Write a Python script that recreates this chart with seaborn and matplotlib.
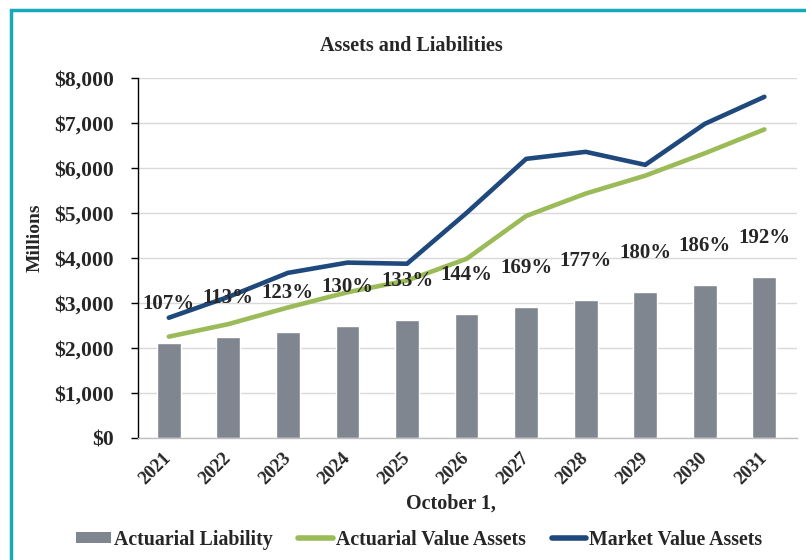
import matplotlib
matplotlib.use('Agg')
import matplotlib.pyplot as plt
import seaborn as sns
import pandas as pd
from matplotlib.patches import Patch, Rectangle
from matplotlib.lines import Line2D
from matplotlib.ticker import FuncFormatter

# data (millions)
years = ['2021', '2022', '2023', '2024', '2025', '2026', '2027', '2028', '2029', '2030', '2031']
liability = [2105, 2237, 2356, 2489, 2629, 2763, 2918, 3067, 3237, 3400, 3570]
actuarial_assets = [2250, 2528, 2898, 3236, 3497, 3979, 4931, 5429, 5827, 6324, 6854]
market_assets = [2670, 3133, 3667, 3895, 3870, 5000, 6200, 6356, 6067, 6978, 7578]
funded_pct = ['107%', '113%', '123%', '130%', '133%', '144%', '169%', '177%', '180%', '186%', '192%']

bar_color = '#7F868F'
green = '#9BBB59'
blue = '#1F497D'

df = pd.DataFrame({'year': years, 'liability': liability,
                   'ava': actuarial_assets, 'mva': market_assets})

sns.set_style('white')
plt.rcParams['font.family'] = ['Liberation Serif', 'DejaVu Serif']
plt.rcParams['font.weight'] = 'bold'

fig = plt.figure(figsize=(8.06, 5.6), dpi=100)
ax = fig.add_axes([0.171, 0.218, 0.818, 0.643])

sns.barplot(data=df, x='year', y='liability', color=bar_color, width=0.4,
            saturation=1, ax=ax, zorder=2)
sns.lineplot(data=df, x='year', y='ava', color=green, linewidth=3.3, ax=ax, zorder=3)
sns.lineplot(data=df, x='year', y='mva', color=blue, linewidth=3.3, ax=ax, zorder=3)

# funded ratio labels above the bars
for i, (v, lab) in enumerate(zip(liability, funded_pct)):
    ax.annotate(lab, (i, v), xytext=(0, 28), textcoords='offset points',
                ha='center', va='center', fontsize=15, fontweight='bold', zorder=4)

ax.set_ylim(0, 8000)
ax.set_xlim(-0.52, 10.55)
ax.set_yticks(range(0, 8001, 1000))
ax.yaxis.set_major_formatter(FuncFormatter(lambda v, p: f'${v:,.0f}'))
ax.grid(axis='y', color='#D9D9D9', linewidth=1, zorder=0)
ax.set_axisbelow(True)

for s in ['top', 'right']:
    ax.spines[s].set_visible(False)
ax.spines['left'].set_color('black')
ax.spines['left'].set_linewidth(1)
ax.spines['bottom'].set_color('#BFBFBF')
ax.spines['bottom'].set_linewidth(1)

ax.tick_params(axis='y', left=True, length=5, width=1, color='black', pad=12, labelsize=15.5)
ax.tick_params(axis='x', bottom=False, pad=9, labelsize=13.5)
for t in ax.get_xticklabels():
    t.set_rotation(45)
    t.set_ha('right')
    t.set_va('center')
    t.set_rotation_mode('anchor')
    t.set_fontweight('bold')
for t in ax.get_yticklabels():
    t.set_fontweight('bold')

ax.set_xlabel('')
ax.set_ylabel('')
fig.text(0.51, 0.918, 'Assets and Liabilities', ha='center', va='center',
         fontsize=14.5, fontweight='bold')
fig.text(0.56, 0.1, 'October 1,', ha='center', va='center',
         fontsize=14.5, fontweight='bold')
fig.text(0.043, 0.575, 'Millions', ha='center', va='center', rotation=90,
         fontsize=14, fontweight='bold')

handles = [Patch(facecolor=bar_color, edgecolor='none'),
           Line2D([0], [0], color=green, linewidth=4),
           Line2D([0], [0], color=blue, linewidth=4)]
labels = ['Actuarial Liability', 'Actuarial Value Assets', 'Market Value Assets']
fig.legend(handles, labels, loc='center', bbox_to_anchor=(0.52, 0.036), ncol=3,
           frameon=False, prop={'size': 14.3, 'weight': 'bold'},
           handlelength=1.75, handleheight=0.5, handletextpad=0.15, columnspacing=1.3)

# teal frame around the chart
fig.patches.append(Rectangle((0.0135, -0.05), 1.2, 1.0325, transform=fig.transFigure,
                             fill=False, edgecolor='#17A9B8', linewidth=2.5))

fig.savefig('out.png', dpi=100)
